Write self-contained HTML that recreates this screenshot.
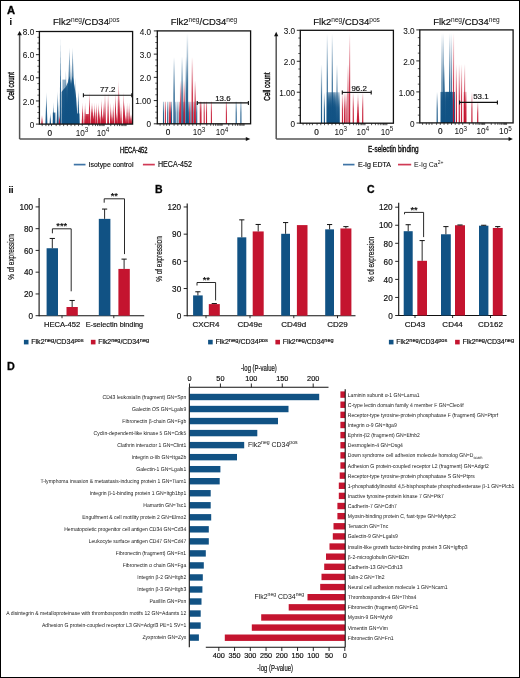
<!DOCTYPE html>
<html><head><meta charset="utf-8"><style>
html,body{margin:0;padding:0;background:#fff;}
svg{display:block;font-family:"Liberation Sans", sans-serif;will-change:transform;}
text.s{stroke:#111;stroke-width:0.18px;}
text.d{text-rendering:geometricPrecision;}
</style></head><body>
<svg width="520" height="678" viewBox="0 0 520 678">
<defs>
<linearGradient id="gB" x1="0" y1="1" x2="0" y2="0"><stop offset="0" stop-color="#115284" stop-opacity="1"/><stop offset="0.5" stop-color="#115284" stop-opacity="0.85"/><stop offset="1" stop-color="#115284" stop-opacity="0.3"/></linearGradient>
<linearGradient id="gR" x1="0" y1="1" x2="0" y2="0"><stop offset="0" stop-color="#C4142F" stop-opacity="1"/><stop offset="0.5" stop-color="#C4142F" stop-opacity="0.85"/><stop offset="1" stop-color="#C4142F" stop-opacity="0.3"/></linearGradient>
<linearGradient id="kB" x1="0" y1="1" x2="0" y2="0"><stop offset="0" stop-color="#115284" stop-opacity="1"/><stop offset="0.7" stop-color="#115284" stop-opacity="0.92"/><stop offset="1" stop-color="#115284" stop-opacity="0.75"/></linearGradient>
<linearGradient id="kR" x1="0" y1="1" x2="0" y2="0"><stop offset="0" stop-color="#C4142F" stop-opacity="1"/><stop offset="0.7" stop-color="#C4142F" stop-opacity="0.92"/><stop offset="1" stop-color="#C4142F" stop-opacity="0.75"/></linearGradient>
<linearGradient id="fB" x1="0" y1="1" x2="0" y2="0"><stop offset="0" stop-color="#115284" stop-opacity="1"/><stop offset="0.45" stop-color="#115284" stop-opacity="0.8"/><stop offset="1" stop-color="#115284" stop-opacity="0.0"/></linearGradient>
<linearGradient id="fR" x1="0" y1="1" x2="0" y2="0"><stop offset="0" stop-color="#C4142F" stop-opacity="1"/><stop offset="0.45" stop-color="#C4142F" stop-opacity="0.8"/><stop offset="1" stop-color="#C4142F" stop-opacity="0.0"/></linearGradient>
</defs>
<rect x="0" y="0" width="520" height="678" fill="#fff"/>
<text class="s" x="7.1" y="13.8" font-size="11.2" text-anchor="start" font-weight="bold" fill="#000" style="stroke-width:0.35px">A</text>
<text class="s" x="9.6" y="24.6" font-size="9" text-anchor="start" font-weight="bold" fill="#000" >i</text>
<text class="s" x="86.3" y="24.7" font-size="9.2" text-anchor="middle" fill="#111" textLength="66.6" lengthAdjust="spacingAndGlyphs">Flk2<tspan font-size="6.4" dy="-2.9" style="stroke-width:0">neg</tspan><tspan dy="2.9">/CD34</tspan><tspan font-size="6.4" dy="-2.9" style="stroke-width:0">pos</tspan></text>
<polygon points="62.40,124.00 62.40,79.60 65.80,79.60 65.80,124.00" fill="url(#kB)" fill-opacity="0.6"/>
<polygon points="61.60,124.00 61.60,92.00 63.00,90.00 65.80,87.00 68.00,82.00 69.50,76.00 71.00,84.00 72.60,76.00 74.50,86.00 76.20,98.00 77.20,113.60 79.40,113.60 79.60,124.00" fill="url(#kB)" fill-opacity="1.0"/>
<polygon points="45.40,124.1 46.40,91.69 47.40,124.1" fill="url(#gB)"/>
<polygon points="49.55,124.1 50.30,112.52 51.05,124.1" fill="url(#gB)"/>
<polygon points="56.60,124.1 57.70,91.11 58.80,124.1" fill="url(#gB)"/>
<polygon points="59.60,124.1 60.50,36.13 61.40,124.1" fill="url(#gB)"/>
<polygon points="64.40,124.1 65.90,69.70 67.40,124.1" fill="url(#gB)"/>
<polygon points="65.95,124.1 67.20,82.43 68.45,124.1" fill="url(#gB)"/>
<polygon points="66.75,124.1 69.50,47.70 72.25,124.1" fill="url(#gB)"/>
<polygon points="69.85,124.1 72.60,47.70 75.35,124.1" fill="url(#gB)"/>
<polygon points="73.60,124.1 75.10,77.80 76.60,124.1" fill="url(#gB)"/>
<polygon points="77.85,124.1 78.60,90.53 79.35,124.1" fill="url(#gB)"/>
<rect x="52.80" y="112.52" width="2.60" height="11.58" fill="url(#kB)"/>
<polygon points="52.80,124.1 53.60,102.11 54.40,124.1" fill="url(#gB)"/>
<polygon points="41.20,124.1 42.00,114.84 42.80,124.1" fill="url(#gR)"/>
<polygon points="58.70,124.1 59.50,114.84 60.30,124.1" fill="url(#gR)"/>
<rect x="85.50" y="114.03" width="3.40" height="10.07" fill="url(#kR)"/>
<polygon points="81.65,124.1 82.60,102.45 83.55,124.1" fill="url(#gR)"/>
<polygon points="84.15,124.1 85.10,102.45 86.05,124.1" fill="url(#gR)"/>
<polygon points="88.55,124.1 89.50,90.88 90.45,124.1" fill="url(#gR)"/>
<polygon points="90.65,124.1 91.60,102.45 92.55,124.1" fill="url(#gR)"/>
<polygon points="91.65,124.1 92.60,102.45 93.55,124.1" fill="url(#gR)"/>
<polygon points="93.65,124.1 94.60,102.45 95.55,124.1" fill="url(#gR)"/>
<polygon points="95.35,124.1 96.30,102.45 97.25,124.1" fill="url(#gR)"/>
<polygon points="97.45,124.1 98.40,102.45 99.35,124.1" fill="url(#gR)"/>
<polygon points="98.75,124.1 99.70,110.21 100.65,124.1" fill="url(#gR)"/>
<polygon points="100.55,124.1 101.50,98.63 102.45,124.1" fill="url(#gR)"/>
<polygon points="102.85,124.1 103.80,102.45 104.75,124.1" fill="url(#gR)"/>
<polygon points="104.05,124.1 105.00,92.27 105.95,124.1" fill="url(#gR)"/>
<polygon points="107.15,124.1 108.10,92.27 109.05,124.1" fill="url(#gR)"/>
<polygon points="109.85,124.1 110.80,102.45 111.75,124.1" fill="url(#gR)"/>
<polygon points="112.25,124.1 113.20,102.45 114.15,124.1" fill="url(#gR)"/>
<polygon points="114.55,124.1 115.50,92.27 116.45,124.1" fill="url(#gR)"/>
<polygon points="117.35,124.1 118.30,80.12 119.25,124.1" fill="url(#gR)"/>
<polygon points="118.35,124.1 119.30,90.88 120.25,124.1" fill="url(#gR)"/>
<polygon points="120.05,124.1 121.00,102.45 121.95,124.1" fill="url(#gR)"/>
<polygon points="122.75,124.1 123.70,91.69 124.65,124.1" fill="url(#gR)"/>
<polygon points="123.45,124.1 124.40,102.45 125.35,124.1" fill="url(#gR)"/>
<polygon points="126.15,124.1 127.10,102.45 128.05,124.1" fill="url(#gR)"/>
<polygon points="128.15,124.1 129.10,102.45 130.05,124.1" fill="url(#gR)"/>
<polygon points="130.25,124.1 131.20,114.03 132.15,124.1" fill="url(#gR)"/>
<polygon points="92.55,124.1 93.50,114.03 94.45,124.1" fill="url(#gR)"/>
<polygon points="101.65,124.1 102.60,114.03 103.55,124.1" fill="url(#gR)"/>
<polygon points="110.95,124.1 111.90,114.03 112.85,124.1" fill="url(#gR)"/>
<polygon points="115.85,124.1 116.80,112.52 117.75,124.1" fill="url(#gR)"/>
<polygon points="124.85,124.1 125.80,114.03 126.75,124.1" fill="url(#gR)"/>
<polygon points="129.25,124.1 130.20,114.03 131.15,124.1" fill="url(#gR)"/>
<polygon points="77.40,124.1 78.20,90.53 79.00,124.1" fill="url(#gB)"/>
<rect x="39.4" y="31.5" width="93.19999999999999" height="92.6" fill="none" stroke="#111" stroke-width="1.3"/>
<line x1="35.9" y1="124.1" x2="39.4" y2="124.1" stroke="#111" stroke-width="0.9"/>
<text class="s" x="34.199999999999996" y="127.69999999999999" font-size="8.2" text-anchor="end" font-weight="normal" fill="#111" style="stroke-width:0.06px">0</text>
<line x1="35.9" y1="100.94999999999999" x2="39.4" y2="100.94999999999999" stroke="#111" stroke-width="0.9"/>
<text class="s" x="34.199999999999996" y="104.54999999999998" font-size="8.2" text-anchor="end" font-weight="normal" fill="#111" style="stroke-width:0.06px">2.0</text>
<line x1="35.9" y1="77.8" x2="39.4" y2="77.8" stroke="#111" stroke-width="0.9"/>
<text class="s" x="34.199999999999996" y="81.39999999999999" font-size="8.2" text-anchor="end" font-weight="normal" fill="#111" style="stroke-width:0.06px">4.0</text>
<line x1="35.9" y1="54.650000000000006" x2="39.4" y2="54.650000000000006" stroke="#111" stroke-width="0.9"/>
<text class="s" x="34.199999999999996" y="58.25000000000001" font-size="8.2" text-anchor="end" font-weight="normal" fill="#111" style="stroke-width:0.06px">6.0</text>
<line x1="35.9" y1="31.5" x2="39.4" y2="31.5" stroke="#111" stroke-width="0.9"/>
<text class="s" x="34.199999999999996" y="35.1" font-size="8.2" text-anchor="end" font-weight="normal" fill="#111" style="stroke-width:0.06px">8.0</text>
<line x1="37.4" y1="118.3125" x2="39.4" y2="118.3125" stroke="#111" stroke-width="0.7"/>
<line x1="37.4" y1="112.52499999999999" x2="39.4" y2="112.52499999999999" stroke="#111" stroke-width="0.7"/>
<line x1="37.4" y1="106.7375" x2="39.4" y2="106.7375" stroke="#111" stroke-width="0.7"/>
<line x1="37.4" y1="95.1625" x2="39.4" y2="95.1625" stroke="#111" stroke-width="0.7"/>
<line x1="37.4" y1="89.375" x2="39.4" y2="89.375" stroke="#111" stroke-width="0.7"/>
<line x1="37.4" y1="83.5875" x2="39.4" y2="83.5875" stroke="#111" stroke-width="0.7"/>
<line x1="37.4" y1="72.01249999999999" x2="39.4" y2="72.01249999999999" stroke="#111" stroke-width="0.7"/>
<line x1="37.4" y1="66.225" x2="39.4" y2="66.225" stroke="#111" stroke-width="0.7"/>
<line x1="37.4" y1="60.4375" x2="39.4" y2="60.4375" stroke="#111" stroke-width="0.7"/>
<line x1="37.4" y1="48.8625" x2="39.4" y2="48.8625" stroke="#111" stroke-width="0.7"/>
<line x1="37.4" y1="43.075" x2="39.4" y2="43.075" stroke="#111" stroke-width="0.7"/>
<line x1="37.4" y1="37.287499999999994" x2="39.4" y2="37.287499999999994" stroke="#111" stroke-width="0.7"/>
<text class="s" x="49.75" y="135.5" font-size="8.2" text-anchor="middle" font-weight="normal" fill="#111" >0</text>
<text x="82" y="135.5" font-size="8.2" text-anchor="middle" fill="#111">10<tspan font-size="6.3" dy="-3.2">3</tspan></text>
<text x="103" y="135.5" font-size="8.2" text-anchor="middle" fill="#111">10<tspan font-size="6.3" dy="-3.2">4</tspan></text>
<line x1="42.196" y1="124.1" x2="42.196" y2="126.1" stroke="#111" stroke-width="0.7"/>
<line x1="45.924" y1="124.1" x2="45.924" y2="126.1" stroke="#111" stroke-width="0.7"/>
<line x1="48.72" y1="124.1" x2="48.72" y2="126.1" stroke="#111" stroke-width="0.7"/>
<line x1="51.516" y1="124.1" x2="51.516" y2="126.1" stroke="#111" stroke-width="0.7"/>
<line x1="56.175999999999995" y1="124.1" x2="56.175999999999995" y2="126.1" stroke="#111" stroke-width="0.7"/>
<line x1="59.903999999999996" y1="124.1" x2="59.903999999999996" y2="126.1" stroke="#111" stroke-width="0.7"/>
<line x1="63.632" y1="124.1" x2="63.632" y2="126.1" stroke="#111" stroke-width="0.7"/>
<line x1="67.36" y1="124.1" x2="67.36" y2="126.1" stroke="#111" stroke-width="0.7"/>
<line x1="71.088" y1="124.1" x2="71.088" y2="126.1" stroke="#111" stroke-width="0.7"/>
<line x1="74.816" y1="124.1" x2="74.816" y2="126.1" stroke="#111" stroke-width="0.7"/>
<line x1="78.54399999999998" y1="124.1" x2="78.54399999999998" y2="126.1" stroke="#111" stroke-width="0.7"/>
<line x1="82.27199999999999" y1="124.1" x2="82.27199999999999" y2="126.1" stroke="#111" stroke-width="0.7"/>
<line x1="88.8651589650325" y1="124.1" x2="88.8651589650325" y2="126.1" stroke="#111" stroke-width="0.7"/>
<line x1="92.72190972087003" y1="124.1" x2="92.72190972087003" y2="126.1" stroke="#111" stroke-width="0.7"/>
<line x1="95.45831793006502" y1="124.1" x2="95.45831793006502" y2="126.1" stroke="#111" stroke-width="0.7"/>
<line x1="97.58084103496748" y1="124.1" x2="97.58084103496748" y2="126.1" stroke="#111" stroke-width="0.7"/>
<line x1="99.31506868590256" y1="124.1" x2="99.31506868590256" y2="126.1" stroke="#111" stroke-width="0.7"/>
<line x1="100.78133727239225" y1="124.1" x2="100.78133727239225" y2="126.1" stroke="#111" stroke-width="0.7"/>
<line x1="102.05147689509754" y1="124.1" x2="102.05147689509754" y2="126.1" stroke="#111" stroke-width="0.7"/>
<line x1="103.17181944174008" y1="124.1" x2="103.17181944174008" y2="126.1" stroke="#111" stroke-width="0.7"/>
<line x1="104.174" y1="124.1" x2="104.174" y2="126.1" stroke="#111" stroke-width="0.7"/>
<line x1="110.76715896503252" y1="124.1" x2="110.76715896503252" y2="126.1" stroke="#111" stroke-width="0.7"/>
<line x1="114.62390972087005" y1="124.1" x2="114.62390972087005" y2="126.1" stroke="#111" stroke-width="0.7"/>
<line x1="117.36031793006504" y1="124.1" x2="117.36031793006504" y2="126.1" stroke="#111" stroke-width="0.7"/>
<line x1="119.48284103496749" y1="124.1" x2="119.48284103496749" y2="126.1" stroke="#111" stroke-width="0.7"/>
<line x1="121.21706868590257" y1="124.1" x2="121.21706868590257" y2="126.1" stroke="#111" stroke-width="0.7"/>
<line x1="122.68333727239227" y1="124.1" x2="122.68333727239227" y2="126.1" stroke="#111" stroke-width="0.7"/>
<line x1="123.95347689509755" y1="124.1" x2="123.95347689509755" y2="126.1" stroke="#111" stroke-width="0.7"/>
<line x1="125.0738194417401" y1="124.1" x2="125.0738194417401" y2="126.1" stroke="#111" stroke-width="0.7"/>
<line x1="126.076" y1="124.1" x2="126.076" y2="126.1" stroke="#111" stroke-width="0.7"/>
<line x1="83.4" y1="95.3" x2="131.8" y2="95.3" stroke="#111" stroke-width="1.1"/>
<line x1="83.4" y1="93.3" x2="83.4" y2="97.3" stroke="#111" stroke-width="1.1"/>
<line x1="131.8" y1="93.3" x2="131.8" y2="97.3" stroke="#111" stroke-width="1.1"/>
<text class="s" x="107.60000000000001" y="92.1" font-size="7.9" text-anchor="middle" font-weight="normal" fill="#111" >77.2</text>
<text class="s" x="204" y="24.7" font-size="9.2" text-anchor="middle" fill="#111" textLength="66.6" lengthAdjust="spacingAndGlyphs">Flk2<tspan font-size="6.4" dy="-2.9" style="stroke-width:0">neg</tspan><tspan dy="2.9">/CD34</tspan><tspan font-size="6.4" dy="-2.9" style="stroke-width:0">neg</tspan></text>
<rect x="162.95" y="101.74" width="1.10" height="22.06" fill="url(#gB)"/>
<rect x="164.85" y="101.74" width="1.10" height="22.06" fill="url(#gR)"/>
<rect x="167.15" y="101.74" width="1.10" height="22.06" fill="url(#gB)"/>
<rect x="168.85" y="101.74" width="1.10" height="22.06" fill="url(#gR)"/>
<rect x="169.95" y="101.74" width="1.10" height="22.06" fill="url(#gR)"/>
<rect x="170.95" y="101.74" width="1.10" height="22.06" fill="url(#gB)"/>
<rect x="175.25" y="101.74" width="1.10" height="22.06" fill="url(#gB)"/>
<rect x="177.35" y="101.74" width="1.10" height="22.06" fill="url(#gB)"/>
<rect x="179.05" y="101.74" width="1.10" height="22.06" fill="url(#gR)"/>
<rect x="182.85" y="101.74" width="1.10" height="22.06" fill="url(#gB)"/>
<rect x="184.35" y="101.74" width="1.10" height="22.06" fill="url(#gB)"/>
<rect x="188.05" y="101.74" width="1.10" height="22.06" fill="url(#gB)"/>
<rect x="189.15" y="101.74" width="1.10" height="22.06" fill="url(#gR)"/>
<rect x="190.45" y="101.74" width="1.10" height="22.06" fill="url(#gB)"/>
<rect x="192.55" y="101.74" width="1.10" height="22.06" fill="url(#gB)"/>
<rect x="193.85" y="101.74" width="1.10" height="22.06" fill="url(#gR)"/>
<rect x="196.15" y="101.74" width="1.10" height="22.06" fill="url(#gB)"/>
<rect x="199.75" y="101.74" width="1.10" height="22.06" fill="url(#gR)"/>
<rect x="200.45" y="101.74" width="1.10" height="22.06" fill="url(#gR)"/>
<rect x="203.65" y="101.74" width="1.10" height="22.06" fill="url(#gR)"/>
<rect x="205.95" y="101.74" width="1.10" height="22.06" fill="url(#gR)"/>
<rect x="210.85" y="101.74" width="1.10" height="22.06" fill="url(#gR)"/>
<rect x="225.85" y="101.74" width="1.10" height="22.06" fill="url(#gR)"/>
<rect x="235.65" y="101.74" width="1.10" height="22.06" fill="url(#gB)"/>
<rect x="240.35" y="101.74" width="1.10" height="22.06" fill="url(#gB)"/>
<rect x="173.35" y="57.14" width="1.50" height="66.66" fill="url(#fB)"/>
<rect x="179.95" y="80.37" width="1.50" height="43.43" fill="url(#fR)"/>
<rect x="181.35" y="56.45" width="1.50" height="67.35" fill="url(#fB)"/>
<rect x="183.45" y="79.67" width="1.50" height="44.13" fill="url(#fR)"/>
<rect x="186.65" y="33.22" width="1.50" height="90.58" fill="url(#fB)"/>
<rect x="185.55" y="56.45" width="1.50" height="67.35" fill="url(#fB)"/>
<rect x="191.55" y="57.14" width="1.50" height="66.66" fill="url(#fR)"/>
<rect x="194.45" y="80.37" width="1.50" height="43.43" fill="url(#fR)"/>
<rect x="157.3" y="30.9" width="93.29999999999998" height="92.9" fill="none" stroke="#111" stroke-width="1.3"/>
<line x1="153.8" y1="123.8" x2="157.3" y2="123.8" stroke="#111" stroke-width="0.9"/>
<text class="s" x="151.10000000000002" y="127.39999999999999" font-size="8.2" text-anchor="end" font-weight="normal" fill="#111" style="stroke-width:0.06px">0</text>
<line x1="153.8" y1="100.57499999999999" x2="157.3" y2="100.57499999999999" stroke="#111" stroke-width="0.9"/>
<text class="s" x="151.10000000000002" y="104.17499999999998" font-size="8.2" text-anchor="end" font-weight="normal" fill="#111" style="stroke-width:0.06px">1.00</text>
<line x1="153.8" y1="77.35" x2="157.3" y2="77.35" stroke="#111" stroke-width="0.9"/>
<text class="s" x="151.10000000000002" y="80.94999999999999" font-size="8.2" text-anchor="end" font-weight="normal" fill="#111" style="stroke-width:0.06px">2.0</text>
<line x1="153.8" y1="54.124999999999986" x2="157.3" y2="54.124999999999986" stroke="#111" stroke-width="0.9"/>
<text class="s" x="151.10000000000002" y="57.72499999999999" font-size="8.2" text-anchor="end" font-weight="normal" fill="#111" style="stroke-width:0.06px">3.0</text>
<line x1="153.8" y1="30.89999999999999" x2="157.3" y2="30.89999999999999" stroke="#111" stroke-width="0.9"/>
<text class="s" x="151.10000000000002" y="34.49999999999999" font-size="8.2" text-anchor="end" font-weight="normal" fill="#111" style="stroke-width:0.06px">4.0</text>
<line x1="155.3" y1="117.99374999999999" x2="157.3" y2="117.99374999999999" stroke="#111" stroke-width="0.7"/>
<line x1="155.3" y1="112.1875" x2="157.3" y2="112.1875" stroke="#111" stroke-width="0.7"/>
<line x1="155.3" y1="106.38125" x2="157.3" y2="106.38125" stroke="#111" stroke-width="0.7"/>
<line x1="155.3" y1="94.76875" x2="157.3" y2="94.76875" stroke="#111" stroke-width="0.7"/>
<line x1="155.3" y1="88.96249999999999" x2="157.3" y2="88.96249999999999" stroke="#111" stroke-width="0.7"/>
<line x1="155.3" y1="83.15625" x2="157.3" y2="83.15625" stroke="#111" stroke-width="0.7"/>
<line x1="155.3" y1="71.54374999999999" x2="157.3" y2="71.54374999999999" stroke="#111" stroke-width="0.7"/>
<line x1="155.3" y1="65.7375" x2="157.3" y2="65.7375" stroke="#111" stroke-width="0.7"/>
<line x1="155.3" y1="59.93124999999999" x2="157.3" y2="59.93124999999999" stroke="#111" stroke-width="0.7"/>
<line x1="155.3" y1="48.318749999999994" x2="157.3" y2="48.318749999999994" stroke="#111" stroke-width="0.7"/>
<line x1="155.3" y1="42.51249999999999" x2="157.3" y2="42.51249999999999" stroke="#111" stroke-width="0.7"/>
<line x1="155.3" y1="36.70625" x2="157.3" y2="36.70625" stroke="#111" stroke-width="0.7"/>
<text class="s" x="168" y="135.2" font-size="8.2" text-anchor="middle" font-weight="normal" fill="#111" >0</text>
<text x="199" y="135.2" font-size="8.2" text-anchor="middle" fill="#111">10<tspan font-size="6.3" dy="-3.2">3</tspan></text>
<text x="222" y="135.2" font-size="8.2" text-anchor="middle" fill="#111">10<tspan font-size="6.3" dy="-3.2">4</tspan></text>
<line x1="160.09900000000002" y1="123.8" x2="160.09900000000002" y2="125.8" stroke="#111" stroke-width="0.7"/>
<line x1="163.83100000000002" y1="123.8" x2="163.83100000000002" y2="125.8" stroke="#111" stroke-width="0.7"/>
<line x1="166.63" y1="123.8" x2="166.63" y2="125.8" stroke="#111" stroke-width="0.7"/>
<line x1="169.429" y1="123.8" x2="169.429" y2="125.8" stroke="#111" stroke-width="0.7"/>
<line x1="174.094" y1="123.8" x2="174.094" y2="125.8" stroke="#111" stroke-width="0.7"/>
<line x1="177.82600000000002" y1="123.8" x2="177.82600000000002" y2="125.8" stroke="#111" stroke-width="0.7"/>
<line x1="181.558" y1="123.8" x2="181.558" y2="125.8" stroke="#111" stroke-width="0.7"/>
<line x1="185.29000000000002" y1="123.8" x2="185.29000000000002" y2="125.8" stroke="#111" stroke-width="0.7"/>
<line x1="189.02200000000002" y1="123.8" x2="189.02200000000002" y2="125.8" stroke="#111" stroke-width="0.7"/>
<line x1="192.75400000000002" y1="123.8" x2="192.75400000000002" y2="125.8" stroke="#111" stroke-width="0.7"/>
<line x1="196.486" y1="123.8" x2="196.486" y2="125.8" stroke="#111" stroke-width="0.7"/>
<line x1="200.21800000000002" y1="123.8" x2="200.21800000000002" y2="125.8" stroke="#111" stroke-width="0.7"/>
<line x1="206.81823316993064" y1="123.8" x2="206.81823316993064" y2="125.8" stroke="#111" stroke-width="0.7"/>
<line x1="210.679122070356" y1="123.8" x2="210.679122070356" y2="125.8" stroke="#111" stroke-width="0.7"/>
<line x1="213.41846633986125" y1="123.8" x2="213.41846633986125" y2="125.8" stroke="#111" stroke-width="0.7"/>
<line x1="215.5432668300694" y1="123.8" x2="215.5432668300694" y2="125.8" stroke="#111" stroke-width="0.7"/>
<line x1="217.2793552402866" y1="123.8" x2="217.2793552402866" y2="125.8" stroke="#111" stroke-width="0.7"/>
<line x1="218.7471970763326" y1="123.8" x2="218.7471970763326" y2="125.8" stroke="#111" stroke-width="0.7"/>
<line x1="220.01869950979187" y1="123.8" x2="220.01869950979187" y2="125.8" stroke="#111" stroke-width="0.7"/>
<line x1="221.14024414071193" y1="123.8" x2="221.14024414071193" y2="125.8" stroke="#111" stroke-width="0.7"/>
<line x1="222.14350000000002" y1="123.8" x2="222.14350000000002" y2="125.8" stroke="#111" stroke-width="0.7"/>
<line x1="228.74373316993064" y1="123.8" x2="228.74373316993064" y2="125.8" stroke="#111" stroke-width="0.7"/>
<line x1="232.604622070356" y1="123.8" x2="232.604622070356" y2="125.8" stroke="#111" stroke-width="0.7"/>
<line x1="235.34396633986125" y1="123.8" x2="235.34396633986125" y2="125.8" stroke="#111" stroke-width="0.7"/>
<line x1="237.4687668300694" y1="123.8" x2="237.4687668300694" y2="125.8" stroke="#111" stroke-width="0.7"/>
<line x1="239.2048552402866" y1="123.8" x2="239.2048552402866" y2="125.8" stroke="#111" stroke-width="0.7"/>
<line x1="240.6726970763326" y1="123.8" x2="240.6726970763326" y2="125.8" stroke="#111" stroke-width="0.7"/>
<line x1="241.94419950979187" y1="123.8" x2="241.94419950979187" y2="125.8" stroke="#111" stroke-width="0.7"/>
<line x1="243.06574414071193" y1="123.8" x2="243.06574414071193" y2="125.8" stroke="#111" stroke-width="0.7"/>
<line x1="244.069" y1="123.8" x2="244.069" y2="125.8" stroke="#111" stroke-width="0.7"/>
<line x1="197.3" y1="102.9" x2="248.4" y2="102.9" stroke="#111" stroke-width="1.1"/>
<line x1="197.3" y1="100.9" x2="197.3" y2="104.9" stroke="#111" stroke-width="1.1"/>
<line x1="248.4" y1="100.9" x2="248.4" y2="104.9" stroke="#111" stroke-width="1.1"/>
<text class="s" x="222.85000000000002" y="100.7" font-size="7.9" text-anchor="middle" font-weight="normal" fill="#111" >13.6</text>
<line x1="19.6" y1="34.5" x2="19.6" y2="139.0" stroke="#555" stroke-width="1.5"/>
<line x1="19.6" y1="139.0" x2="247" y2="139.0" stroke="#555" stroke-width="1.5"/>
<polygon points="19.6,31.0 17.3,35.2 21.9,35.2" fill="#111"/>
<polygon points="250.3,139 245.8,136.9 245.8,141.1" fill="#111"/>
<text class="s" x="13.9" y="86" font-size="9.6" text-anchor="middle" font-weight="normal" fill="#111" textLength="28.1" lengthAdjust="spacingAndGlyphs" style="stroke-width:0.45px" transform="rotate(-90 13.9 86)">Cell count</text>
<text class="s" x="133.8" y="153" font-size="9.0" text-anchor="middle" font-weight="normal" fill="#111" textLength="27.4" lengthAdjust="spacingAndGlyphs" style="stroke-width:0.4px">HECA-452</text>
<line x1="73.8" y1="164.6" x2="85.5" y2="164.6" stroke="#3f74a6" stroke-width="1.7"/>
<text class="s" x="88.5" y="166.9" font-size="8.0" text-anchor="start" font-weight="normal" fill="#111" textLength="45" lengthAdjust="spacingAndGlyphs" >Isotype control</text>
<line x1="142.9" y1="164.6" x2="154.8" y2="164.6" stroke="#d03a55" stroke-width="1.7"/>
<text class="s" x="157.9" y="167.2" font-size="8.2" text-anchor="start" font-weight="normal" fill="#111" textLength="34" lengthAdjust="spacingAndGlyphs" >HECA-452</text>
<text class="s" x="346.6" y="24.7" font-size="9.2" text-anchor="middle" fill="#111" textLength="66.6" lengthAdjust="spacingAndGlyphs">Flk2<tspan font-size="6.4" dy="-2.9" style="stroke-width:0">neg</tspan><tspan dy="2.9">/CD34</tspan><tspan font-size="6.4" dy="-2.9" style="stroke-width:0">pos</tspan></text>
<rect x="326.60" y="92.23" width="13.00" height="30.97" fill="url(#gB)"/>
<rect x="328.20" y="92.23" width="7.30" height="30.97" fill="url(#gB)"/>
<rect x="320.90" y="64.36" width="1.20" height="58.84" fill="url(#fB)"/>
<rect x="323.80" y="92.23" width="1.20" height="30.97" fill="url(#fB)"/>
<rect x="326.70" y="33.40" width="1.20" height="89.80" fill="url(#fB)"/>
<rect x="328.00" y="92.23" width="1.20" height="30.97" fill="url(#fB)"/>
<rect x="329.60" y="92.23" width="1.20" height="30.97" fill="url(#fB)"/>
<rect x="331.70" y="33.40" width="1.20" height="89.80" fill="url(#fB)"/>
<rect x="333.20" y="92.23" width="1.20" height="30.97" fill="url(#fB)"/>
<rect x="334.70" y="92.23" width="1.20" height="30.97" fill="url(#fB)"/>
<rect x="336.40" y="64.36" width="1.20" height="58.84" fill="url(#fB)"/>
<rect x="338.30" y="92.23" width="1.20" height="30.97" fill="url(#fB)"/>
<rect x="341.90" y="92.23" width="1.20" height="30.97" fill="url(#fR)"/>
<rect x="344.00" y="92.23" width="1.20" height="30.97" fill="url(#fR)"/>
<rect x="345.50" y="92.23" width="1.20" height="30.97" fill="url(#fR)"/>
<rect x="347.40" y="64.36" width="1.20" height="58.84" fill="url(#fR)"/>
<rect x="349.00" y="33.40" width="1.20" height="89.80" fill="url(#fR)"/>
<rect x="352.70" y="92.23" width="1.20" height="30.97" fill="url(#fR)"/>
<rect x="362.10" y="92.23" width="1.20" height="30.97" fill="url(#fR)"/>
<polygon points="356.70,123.2 358.00,92.23 359.30,123.2" fill="url(#gR)"/>
<rect x="300.3" y="30.3" width="93.09999999999997" height="92.9" fill="none" stroke="#111" stroke-width="1.3"/>
<line x1="296.8" y1="123.2" x2="300.3" y2="123.2" stroke="#111" stroke-width="0.9"/>
<text class="s" x="295.1" y="126.8" font-size="8.2" text-anchor="end" font-weight="normal" fill="#111" style="stroke-width:0.06px">0</text>
<line x1="296.8" y1="92.23333333333333" x2="300.3" y2="92.23333333333333" stroke="#111" stroke-width="0.9"/>
<text class="s" x="295.1" y="95.83333333333333" font-size="8.2" text-anchor="end" font-weight="normal" fill="#111" style="stroke-width:0.06px">1.00</text>
<line x1="296.8" y1="61.266666666666666" x2="300.3" y2="61.266666666666666" stroke="#111" stroke-width="0.9"/>
<text class="s" x="295.1" y="64.86666666666666" font-size="8.2" text-anchor="end" font-weight="normal" fill="#111" style="stroke-width:0.06px">2.0</text>
<line x1="296.8" y1="30.299999999999997" x2="300.3" y2="30.299999999999997" stroke="#111" stroke-width="0.9"/>
<text class="s" x="295.1" y="33.9" font-size="8.2" text-anchor="end" font-weight="normal" fill="#111" style="stroke-width:0.06px">3.0</text>
<line x1="298.3" y1="115.45833333333334" x2="300.3" y2="115.45833333333334" stroke="#111" stroke-width="0.7"/>
<line x1="298.3" y1="107.71666666666667" x2="300.3" y2="107.71666666666667" stroke="#111" stroke-width="0.7"/>
<line x1="298.3" y1="99.975" x2="300.3" y2="99.975" stroke="#111" stroke-width="0.7"/>
<line x1="298.3" y1="84.49166666666667" x2="300.3" y2="84.49166666666667" stroke="#111" stroke-width="0.7"/>
<line x1="298.3" y1="76.75" x2="300.3" y2="76.75" stroke="#111" stroke-width="0.7"/>
<line x1="298.3" y1="69.00833333333333" x2="300.3" y2="69.00833333333333" stroke="#111" stroke-width="0.7"/>
<line x1="298.3" y1="53.52499999999999" x2="300.3" y2="53.52499999999999" stroke="#111" stroke-width="0.7"/>
<line x1="298.3" y1="45.78333333333333" x2="300.3" y2="45.78333333333333" stroke="#111" stroke-width="0.7"/>
<line x1="298.3" y1="38.04166666666667" x2="300.3" y2="38.04166666666667" stroke="#111" stroke-width="0.7"/>
<text class="s" x="316.5" y="134.6" font-size="8.2" text-anchor="middle" font-weight="normal" fill="#111" >0</text>
<text x="340.8" y="134.6" font-size="8.2" text-anchor="middle" fill="#111">10<tspan font-size="6.3" dy="-3.2">3</tspan></text>
<text x="362.9" y="134.6" font-size="8.2" text-anchor="middle" fill="#111">10<tspan font-size="6.3" dy="-3.2">4</tspan></text>
<text x="387" y="134.6" font-size="8.2" text-anchor="middle" fill="#111">10<tspan font-size="6.3" dy="-3.2">5</tspan></text>
<line x1="303.093" y1="123.2" x2="303.093" y2="125.2" stroke="#111" stroke-width="0.7"/>
<line x1="306.817" y1="123.2" x2="306.817" y2="125.2" stroke="#111" stroke-width="0.7"/>
<line x1="309.61" y1="123.2" x2="309.61" y2="125.2" stroke="#111" stroke-width="0.7"/>
<line x1="312.403" y1="123.2" x2="312.403" y2="125.2" stroke="#111" stroke-width="0.7"/>
<line x1="317.058" y1="123.2" x2="317.058" y2="125.2" stroke="#111" stroke-width="0.7"/>
<line x1="320.782" y1="123.2" x2="320.782" y2="125.2" stroke="#111" stroke-width="0.7"/>
<line x1="324.50600000000003" y1="123.2" x2="324.50600000000003" y2="125.2" stroke="#111" stroke-width="0.7"/>
<line x1="328.23" y1="123.2" x2="328.23" y2="125.2" stroke="#111" stroke-width="0.7"/>
<line x1="331.954" y1="123.2" x2="331.954" y2="125.2" stroke="#111" stroke-width="0.7"/>
<line x1="335.678" y1="123.2" x2="335.678" y2="125.2" stroke="#111" stroke-width="0.7"/>
<line x1="339.402" y1="123.2" x2="339.402" y2="125.2" stroke="#111" stroke-width="0.7"/>
<line x1="343.126" y1="123.2" x2="343.126" y2="125.2" stroke="#111" stroke-width="0.7"/>
<line x1="349.71208476013436" y1="123.2" x2="349.71208476013436" y2="125.2" stroke="#111" stroke-width="0.7"/>
<line x1="353.5646973713841" y1="123.2" x2="353.5646973713841" y2="125.2" stroke="#111" stroke-width="0.7"/>
<line x1="356.2981695202688" y1="123.2" x2="356.2981695202688" y2="125.2" stroke="#111" stroke-width="0.7"/>
<line x1="358.41841523986557" y1="123.2" x2="358.41841523986557" y2="125.2" stroke="#111" stroke-width="0.7"/>
<line x1="360.1507821315185" y1="123.2" x2="360.1507821315185" y2="125.2" stroke="#111" stroke-width="0.7"/>
<line x1="361.6154774684519" y1="123.2" x2="361.6154774684519" y2="125.2" stroke="#111" stroke-width="0.7"/>
<line x1="362.8842542804032" y1="123.2" x2="362.8842542804032" y2="125.2" stroke="#111" stroke-width="0.7"/>
<line x1="364.00339474276825" y1="123.2" x2="364.00339474276825" y2="125.2" stroke="#111" stroke-width="0.7"/>
<line x1="365.0045" y1="123.2" x2="365.0045" y2="125.2" stroke="#111" stroke-width="0.7"/>
<line x1="371.5905847601344" y1="123.2" x2="371.5905847601344" y2="125.2" stroke="#111" stroke-width="0.7"/>
<line x1="375.44319737138414" y1="123.2" x2="375.44319737138414" y2="125.2" stroke="#111" stroke-width="0.7"/>
<line x1="378.17666952026883" y1="123.2" x2="378.17666952026883" y2="125.2" stroke="#111" stroke-width="0.7"/>
<line x1="380.2969152398656" y1="123.2" x2="380.2969152398656" y2="125.2" stroke="#111" stroke-width="0.7"/>
<line x1="382.0292821315185" y1="123.2" x2="382.0292821315185" y2="125.2" stroke="#111" stroke-width="0.7"/>
<line x1="383.49397746845193" y1="123.2" x2="383.49397746845193" y2="125.2" stroke="#111" stroke-width="0.7"/>
<line x1="384.7627542804032" y1="123.2" x2="384.7627542804032" y2="125.2" stroke="#111" stroke-width="0.7"/>
<line x1="385.8818947427683" y1="123.2" x2="385.8818947427683" y2="125.2" stroke="#111" stroke-width="0.7"/>
<line x1="386.883" y1="123.2" x2="386.883" y2="125.2" stroke="#111" stroke-width="0.7"/>
<line x1="342.3" y1="92.4" x2="371.2" y2="92.4" stroke="#111" stroke-width="1.1"/>
<line x1="342.3" y1="90.4" x2="342.3" y2="94.4" stroke="#111" stroke-width="1.1"/>
<line x1="371.2" y1="90.4" x2="371.2" y2="94.4" stroke="#111" stroke-width="1.1"/>
<text class="s" x="359.15" y="90.7" font-size="7.9" text-anchor="middle" font-weight="normal" fill="#111" >96.2</text>
<text class="s" x="466.5" y="24.7" font-size="9.2" text-anchor="middle" fill="#111" textLength="66.6" lengthAdjust="spacingAndGlyphs">Flk2<tspan font-size="6.4" dy="-2.9" style="stroke-width:0">neg</tspan><tspan dy="2.9">/CD34</tspan><tspan font-size="6.4" dy="-2.9" style="stroke-width:0">neg</tspan></text>
<rect x="440.50" y="91.90" width="14.50" height="31.00" fill="url(#kB)"/>
<rect x="445.60" y="91.90" width="6.40" height="31.00" fill="url(#kB)"/>
<rect x="436.60" y="91.90" width="1.20" height="31.00" fill="url(#fB)"/>
<rect x="441.40" y="33.00" width="1.20" height="89.90" fill="url(#fB)"/>
<rect x="442.80" y="33.00" width="1.20" height="89.90" fill="url(#fB)"/>
<rect x="443.80" y="64.00" width="1.20" height="58.90" fill="url(#fB)"/>
<rect x="449.00" y="33.00" width="1.20" height="89.90" fill="url(#fB)"/>
<rect x="450.70" y="33.00" width="1.20" height="89.90" fill="url(#fB)"/>
<rect x="452.90" y="33.00" width="1.20" height="89.90" fill="url(#fR)"/>
<rect x="455.80" y="64.00" width="1.20" height="58.90" fill="url(#fR)"/>
<rect x="458.70" y="64.00" width="1.20" height="58.90" fill="url(#fR)"/>
<rect x="460.90" y="64.00" width="1.20" height="58.90" fill="url(#fR)"/>
<rect x="464.00" y="64.00" width="1.20" height="58.90" fill="url(#fR)"/>
<rect x="471.30" y="91.90" width="1.20" height="31.00" fill="url(#fR)"/>
<rect x="477.10" y="101.20" width="1.20" height="21.70" fill="url(#fR)"/>
<rect x="463.60" y="91.90" width="2.90" height="31.00" fill="url(#gR)"/>
<rect x="419.8" y="29.9" width="93.30000000000001" height="93.0" fill="none" stroke="#111" stroke-width="1.3"/>
<line x1="416.3" y1="122.9" x2="419.8" y2="122.9" stroke="#111" stroke-width="0.9"/>
<text class="s" x="414.6" y="126.5" font-size="8.2" text-anchor="end" font-weight="normal" fill="#111" style="stroke-width:0.06px">0</text>
<line x1="416.3" y1="91.9" x2="419.8" y2="91.9" stroke="#111" stroke-width="0.9"/>
<text class="s" x="414.6" y="95.5" font-size="8.2" text-anchor="end" font-weight="normal" fill="#111" style="stroke-width:0.06px">1.00</text>
<line x1="416.3" y1="60.900000000000006" x2="419.8" y2="60.900000000000006" stroke="#111" stroke-width="0.9"/>
<text class="s" x="414.6" y="64.5" font-size="8.2" text-anchor="end" font-weight="normal" fill="#111" style="stroke-width:0.06px">2.0</text>
<line x1="416.3" y1="29.900000000000006" x2="419.8" y2="29.900000000000006" stroke="#111" stroke-width="0.9"/>
<text class="s" x="414.6" y="33.50000000000001" font-size="8.2" text-anchor="end" font-weight="normal" fill="#111" style="stroke-width:0.06px">3.0</text>
<line x1="417.8" y1="115.15" x2="419.8" y2="115.15" stroke="#111" stroke-width="0.7"/>
<line x1="417.8" y1="107.4" x2="419.8" y2="107.4" stroke="#111" stroke-width="0.7"/>
<line x1="417.8" y1="99.65" x2="419.8" y2="99.65" stroke="#111" stroke-width="0.7"/>
<line x1="417.8" y1="84.15" x2="419.8" y2="84.15" stroke="#111" stroke-width="0.7"/>
<line x1="417.8" y1="76.4" x2="419.8" y2="76.4" stroke="#111" stroke-width="0.7"/>
<line x1="417.8" y1="68.65" x2="419.8" y2="68.65" stroke="#111" stroke-width="0.7"/>
<line x1="417.8" y1="53.150000000000006" x2="419.8" y2="53.150000000000006" stroke="#111" stroke-width="0.7"/>
<line x1="417.8" y1="45.400000000000006" x2="419.8" y2="45.400000000000006" stroke="#111" stroke-width="0.7"/>
<line x1="417.8" y1="37.650000000000006" x2="419.8" y2="37.650000000000006" stroke="#111" stroke-width="0.7"/>
<text class="s" x="440.2" y="134.3" font-size="8.2" text-anchor="middle" font-weight="normal" fill="#111" >0</text>
<text x="460.8" y="134.3" font-size="8.2" text-anchor="middle" fill="#111">10<tspan font-size="6.3" dy="-3.2">3</tspan></text>
<text x="482.8" y="134.3" font-size="8.2" text-anchor="middle" fill="#111">10<tspan font-size="6.3" dy="-3.2">4</tspan></text>
<text x="505.4" y="134.3" font-size="8.2" text-anchor="middle" fill="#111">10<tspan font-size="6.3" dy="-3.2">5</tspan></text>
<line x1="422.599" y1="122.9" x2="422.599" y2="124.9" stroke="#111" stroke-width="0.7"/>
<line x1="426.331" y1="122.9" x2="426.331" y2="124.9" stroke="#111" stroke-width="0.7"/>
<line x1="429.13" y1="122.9" x2="429.13" y2="124.9" stroke="#111" stroke-width="0.7"/>
<line x1="431.92900000000003" y1="122.9" x2="431.92900000000003" y2="124.9" stroke="#111" stroke-width="0.7"/>
<line x1="436.594" y1="122.9" x2="436.594" y2="124.9" stroke="#111" stroke-width="0.7"/>
<line x1="440.326" y1="122.9" x2="440.326" y2="124.9" stroke="#111" stroke-width="0.7"/>
<line x1="444.058" y1="122.9" x2="444.058" y2="124.9" stroke="#111" stroke-width="0.7"/>
<line x1="447.79" y1="122.9" x2="447.79" y2="124.9" stroke="#111" stroke-width="0.7"/>
<line x1="451.522" y1="122.9" x2="451.522" y2="124.9" stroke="#111" stroke-width="0.7"/>
<line x1="455.254" y1="122.9" x2="455.254" y2="124.9" stroke="#111" stroke-width="0.7"/>
<line x1="458.986" y1="122.9" x2="458.986" y2="124.9" stroke="#111" stroke-width="0.7"/>
<line x1="462.718" y1="122.9" x2="462.718" y2="124.9" stroke="#111" stroke-width="0.7"/>
<line x1="469.31823316993064" y1="122.9" x2="469.31823316993064" y2="124.9" stroke="#111" stroke-width="0.7"/>
<line x1="473.17912207035596" y1="122.9" x2="473.17912207035596" y2="124.9" stroke="#111" stroke-width="0.7"/>
<line x1="475.91846633986125" y1="122.9" x2="475.91846633986125" y2="124.9" stroke="#111" stroke-width="0.7"/>
<line x1="478.0432668300694" y1="122.9" x2="478.0432668300694" y2="124.9" stroke="#111" stroke-width="0.7"/>
<line x1="479.7793552402866" y1="122.9" x2="479.7793552402866" y2="124.9" stroke="#111" stroke-width="0.7"/>
<line x1="481.2471970763326" y1="122.9" x2="481.2471970763326" y2="124.9" stroke="#111" stroke-width="0.7"/>
<line x1="482.5186995097919" y1="122.9" x2="482.5186995097919" y2="124.9" stroke="#111" stroke-width="0.7"/>
<line x1="483.64024414071196" y1="122.9" x2="483.64024414071196" y2="124.9" stroke="#111" stroke-width="0.7"/>
<line x1="484.6435" y1="122.9" x2="484.6435" y2="124.9" stroke="#111" stroke-width="0.7"/>
<line x1="491.24373316993064" y1="122.9" x2="491.24373316993064" y2="124.9" stroke="#111" stroke-width="0.7"/>
<line x1="495.10462207035596" y1="122.9" x2="495.10462207035596" y2="124.9" stroke="#111" stroke-width="0.7"/>
<line x1="497.84396633986125" y1="122.9" x2="497.84396633986125" y2="124.9" stroke="#111" stroke-width="0.7"/>
<line x1="499.9687668300694" y1="122.9" x2="499.9687668300694" y2="124.9" stroke="#111" stroke-width="0.7"/>
<line x1="501.7048552402866" y1="122.9" x2="501.7048552402866" y2="124.9" stroke="#111" stroke-width="0.7"/>
<line x1="503.1726970763326" y1="122.9" x2="503.1726970763326" y2="124.9" stroke="#111" stroke-width="0.7"/>
<line x1="504.4441995097919" y1="122.9" x2="504.4441995097919" y2="124.9" stroke="#111" stroke-width="0.7"/>
<line x1="505.56574414071196" y1="122.9" x2="505.56574414071196" y2="124.9" stroke="#111" stroke-width="0.7"/>
<line x1="506.569" y1="122.9" x2="506.569" y2="124.9" stroke="#111" stroke-width="0.7"/>
<line x1="459.6" y1="102.4" x2="497.4" y2="102.4" stroke="#111" stroke-width="1.1"/>
<line x1="459.6" y1="100.4" x2="459.6" y2="104.4" stroke="#111" stroke-width="1.1"/>
<line x1="497.4" y1="100.4" x2="497.4" y2="104.4" stroke="#111" stroke-width="1.1"/>
<text class="s" x="480.9" y="99.4" font-size="7.9" text-anchor="middle" font-weight="normal" fill="#111" >53.1</text>
<line x1="276.2" y1="35" x2="276.2" y2="139.0" stroke="#555" stroke-width="1.5"/>
<line x1="276.2" y1="139.0" x2="510" y2="139.0" stroke="#555" stroke-width="1.5"/>
<polygon points="276.2,31.8 274.1,36.2 278.3,36.2" fill="#111"/>
<polygon points="512.9,139 508.6,136.9 508.6,141.1" fill="#111"/>
<text class="s" x="270.2" y="86.6" font-size="9.6" text-anchor="middle" font-weight="normal" fill="#111" textLength="28.1" lengthAdjust="spacingAndGlyphs" style="stroke-width:0.45px" transform="rotate(-90 270.2 86.6)">Cell count</text>
<text class="s" x="393.3" y="151.8" font-size="9.0" text-anchor="middle" font-weight="normal" fill="#111" textLength="50.4" lengthAdjust="spacingAndGlyphs" style="stroke-width:0.4px">E-selectin binding</text>
<line x1="343" y1="164.6" x2="354.5" y2="164.6" stroke="#3f74a6" stroke-width="1.7"/>
<text class="s" x="358" y="166.5" font-size="7.0" text-anchor="start" font-weight="normal" fill="#111" >E-Ig EDTA</text>
<line x1="398" y1="164.6" x2="411.2" y2="164.6" stroke="#d03a55" stroke-width="1.7"/>
<text x="414" y="166.5" font-size="7" fill="#111">E-Ig Ca<tspan font-size="5" dy="-2.8">2+</tspan></text>
<text class="s" x="8.5" y="193" font-size="9" text-anchor="start" font-weight="bold" fill="#000" >ii</text>
<text class="s" x="155" y="193" font-size="10.5" text-anchor="start" font-weight="bold" fill="#000" style="stroke-width:0.3px">B</text>
<text class="s" x="367" y="193" font-size="10.5" text-anchor="start" font-weight="bold" fill="#000" style="stroke-width:0.3px">C</text>
<line x1="39.1" y1="198" x2="39.1" y2="316.2" stroke="#111" stroke-width="1.1"/>
<line x1="39.1" y1="315.7" x2="144.2" y2="315.7" stroke="#111" stroke-width="1.1"/>
<line x1="35.6" y1="315.7" x2="39.1" y2="315.7" stroke="#111" stroke-width="0.9"/>
<text class="s" x="33.1" y="318.9" font-size="8.2" text-anchor="end" font-weight="normal" fill="#111" >0</text>
<line x1="35.6" y1="293.94" x2="39.1" y2="293.94" stroke="#111" stroke-width="0.9"/>
<text class="s" x="33.1" y="297.14" font-size="8.2" text-anchor="end" font-weight="normal" fill="#111" >20</text>
<line x1="35.6" y1="272.18" x2="39.1" y2="272.18" stroke="#111" stroke-width="0.9"/>
<text class="s" x="33.1" y="275.38" font-size="8.2" text-anchor="end" font-weight="normal" fill="#111" >40</text>
<line x1="35.6" y1="250.42" x2="39.1" y2="250.42" stroke="#111" stroke-width="0.9"/>
<text class="s" x="33.1" y="253.61999999999998" font-size="8.2" text-anchor="end" font-weight="normal" fill="#111" >60</text>
<line x1="35.6" y1="228.65999999999997" x2="39.1" y2="228.65999999999997" stroke="#111" stroke-width="0.9"/>
<text class="s" x="33.1" y="231.85999999999996" font-size="8.2" text-anchor="end" font-weight="normal" fill="#111" >80</text>
<line x1="35.6" y1="206.89999999999998" x2="39.1" y2="206.89999999999998" stroke="#111" stroke-width="0.9"/>
<text class="s" x="33.1" y="210.09999999999997" font-size="8.2" text-anchor="end" font-weight="normal" fill="#111" >100</text>
<rect x="46.6" y="248.24399999999997" width="11.399999999999999" height="67.45600000000002" fill="#115284"/>
<line x1="52.3" y1="238.452" x2="52.3" y2="248.24399999999997" stroke="#111" stroke-width="0.9"/>
<line x1="49.699999999999996" y1="238.452" x2="54.9" y2="238.452" stroke="#111" stroke-width="1.0"/>
<rect x="66.5" y="306.996" width="11.299999999999997" height="8.704000000000008" fill="#C4142F"/>
<line x1="72.15" y1="300.46799999999996" x2="72.15" y2="306.996" stroke="#111" stroke-width="0.9"/>
<line x1="69.55000000000001" y1="300.46799999999996" x2="74.75" y2="300.46799999999996" stroke="#111" stroke-width="1.0"/>
<rect x="98.8" y="218.868" width="11.600000000000009" height="96.832" fill="#115284"/>
<line x1="104.6" y1="209.07599999999996" x2="104.6" y2="218.868" stroke="#111" stroke-width="0.9"/>
<line x1="102.0" y1="209.07599999999996" x2="107.19999999999999" y2="209.07599999999996" stroke="#111" stroke-width="1.0"/>
<rect x="118.4" y="268.916" width="11.400000000000006" height="46.78399999999999" fill="#C4142F"/>
<line x1="124.10000000000001" y1="259.12399999999997" x2="124.10000000000001" y2="268.916" stroke="#111" stroke-width="0.9"/>
<line x1="121.50000000000001" y1="259.12399999999997" x2="126.7" y2="259.12399999999997" stroke="#111" stroke-width="1.0"/>
<line x1="62" y1="315.7" x2="62" y2="318.2" stroke="#111" stroke-width="0.9"/>
<text class="s" x="62.1" y="327.3" font-size="8.0" text-anchor="middle" font-weight="normal" fill="#111" textLength="36.4" lengthAdjust="spacingAndGlyphs" >HECA-452</text>
<line x1="113.8" y1="315.7" x2="113.8" y2="318.2" stroke="#111" stroke-width="0.9"/>
<text class="s" x="114.4" y="327.3" font-size="8.0" text-anchor="middle" font-weight="normal" fill="#111" textLength="57.5" lengthAdjust="spacingAndGlyphs" >E-selectin binding</text>
<polyline points="52.4,233.3 52.4,228.8 71.2,228.8 71.2,291.3" fill="none" stroke="#111" stroke-width="0.9"/>
<text class="s" x="61.8" y="228.9" font-size="9.3" text-anchor="middle" font-weight="bold" fill="#111" style="stroke-width:0">***</text>
<polyline points="104.2,202.7 104.2,198.8 124.5,198.8 124.5,254.1" fill="none" stroke="#111" stroke-width="0.9"/>
<text class="s" x="114.35" y="198.9" font-size="9.3" text-anchor="middle" font-weight="bold" fill="#111" style="stroke-width:0">**</text>
<text class="s" x="13.9" y="257" font-size="9.2" text-anchor="middle" font-weight="normal" fill="#111" textLength="45.4" lengthAdjust="spacingAndGlyphs" stroke="#111" stroke-width="0.2" transform="rotate(-90 13.9 257)">% of expression</text>
<line x1="187.2" y1="203.6" x2="187.2" y2="316.2" stroke="#111" stroke-width="1.1"/>
<line x1="187.2" y1="315.7" x2="355.5" y2="315.7" stroke="#111" stroke-width="1.1"/>
<line x1="183.7" y1="315.7" x2="187.2" y2="315.7" stroke="#111" stroke-width="0.9"/>
<text class="s" x="181.2" y="318.9" font-size="8.2" text-anchor="end" font-weight="normal" fill="#111" >0</text>
<line x1="183.7" y1="288.52" x2="187.2" y2="288.52" stroke="#111" stroke-width="0.9"/>
<text class="s" x="181.2" y="291.71999999999997" font-size="8.2" text-anchor="end" font-weight="normal" fill="#111" >30</text>
<line x1="183.7" y1="261.34" x2="187.2" y2="261.34" stroke="#111" stroke-width="0.9"/>
<text class="s" x="181.2" y="264.53999999999996" font-size="8.2" text-anchor="end" font-weight="normal" fill="#111" >60</text>
<line x1="183.7" y1="234.15999999999997" x2="187.2" y2="234.15999999999997" stroke="#111" stroke-width="0.9"/>
<text class="s" x="181.2" y="237.35999999999996" font-size="8.2" text-anchor="end" font-weight="normal" fill="#111" >90</text>
<line x1="183.7" y1="206.98" x2="187.2" y2="206.98" stroke="#111" stroke-width="0.9"/>
<text class="s" x="181.2" y="210.17999999999998" font-size="8.2" text-anchor="end" font-weight="normal" fill="#111" >120</text>
<rect x="193.1" y="295.4056" width="9.599999999999994" height="20.294399999999996" fill="#115284"/>
<line x1="197.89999999999998" y1="291.78159999999997" x2="197.89999999999998" y2="295.4056" stroke="#111" stroke-width="0.9"/>
<line x1="195.29999999999998" y1="291.78159999999997" x2="200.49999999999997" y2="291.78159999999997" stroke="#111" stroke-width="1.0"/>
<rect x="208.8" y="304.1032" width="11.0" height="11.596799999999973" fill="#C4142F"/>
<line x1="214.3" y1="303.5596" x2="214.3" y2="304.1032" stroke="#111" stroke-width="0.9"/>
<line x1="211.70000000000002" y1="303.5596" x2="216.9" y2="303.5596" stroke="#111" stroke-width="1.0"/>
<rect x="237.3" y="237.331" width="9.0" height="78.369" fill="#115284"/>
<line x1="241.8" y1="219.84519999999998" x2="241.8" y2="237.331" stroke="#111" stroke-width="0.9"/>
<line x1="239.20000000000002" y1="219.84519999999998" x2="244.4" y2="219.84519999999998" stroke="#111" stroke-width="1.0"/>
<rect x="252.7" y="231.442" width="11.0" height="84.25799999999998" fill="#C4142F"/>
<line x1="258.2" y1="224.4658" x2="258.2" y2="231.442" stroke="#111" stroke-width="0.9"/>
<line x1="255.6" y1="224.4658" x2="260.8" y2="224.4658" stroke="#111" stroke-width="1.0"/>
<rect x="281.2" y="233.7976" width="8.800000000000011" height="81.9024" fill="#115284"/>
<line x1="285.6" y1="222.5632" x2="285.6" y2="233.7976" stroke="#111" stroke-width="0.9"/>
<line x1="283.0" y1="222.5632" x2="288.20000000000005" y2="222.5632" stroke="#111" stroke-width="1.0"/>
<rect x="296.9" y="225.09999999999997" width="10.600000000000023" height="90.60000000000002" fill="#C4142F"/>
<rect x="325.2" y="229.35819999999998" width="8.800000000000011" height="86.3418" fill="#115284"/>
<line x1="329.6" y1="224.5564" x2="329.6" y2="229.35819999999998" stroke="#111" stroke-width="0.9"/>
<line x1="327.0" y1="224.5564" x2="332.20000000000005" y2="224.5564" stroke="#111" stroke-width="1.0"/>
<rect x="340.4" y="228.4522" width="11.0" height="87.24779999999998" fill="#C4142F"/>
<line x1="345.9" y1="226.6402" x2="345.9" y2="228.4522" stroke="#111" stroke-width="0.9"/>
<line x1="343.29999999999995" y1="226.6402" x2="348.5" y2="226.6402" stroke="#111" stroke-width="1.0"/>
<line x1="206" y1="315.7" x2="206" y2="318.2" stroke="#111" stroke-width="0.9"/>
<text class="s" x="206" y="327.3" font-size="8.0" text-anchor="middle" font-weight="normal" fill="#111" >CXCR4</text>
<line x1="250" y1="315.7" x2="250" y2="318.2" stroke="#111" stroke-width="0.9"/>
<text class="s" x="250" y="327.3" font-size="8.0" text-anchor="middle" font-weight="normal" fill="#111" >CD49e</text>
<line x1="293.8" y1="315.7" x2="293.8" y2="318.2" stroke="#111" stroke-width="0.9"/>
<text class="s" x="293.8" y="327.3" font-size="8.0" text-anchor="middle" font-weight="normal" fill="#111" >CD49d</text>
<line x1="337.5" y1="315.7" x2="337.5" y2="318.2" stroke="#111" stroke-width="0.9"/>
<text class="s" x="337.5" y="327.3" font-size="8.0" text-anchor="middle" font-weight="normal" fill="#111" >CD29</text>
<polyline points="197,285.5 197,282.5 215.6,282.5 215.6,300.4" fill="none" stroke="#111" stroke-width="0.9"/>
<text class="s" x="206.3" y="282.6" font-size="9.3" text-anchor="middle" font-weight="bold" fill="#111" style="stroke-width:0">**</text>
<text class="s" x="162.0" y="259" font-size="9.2" text-anchor="middle" font-weight="normal" fill="#111" textLength="45.4" lengthAdjust="spacingAndGlyphs" stroke="#111" stroke-width="0.2" transform="rotate(-90 162.0 259)">% of expression</text>
<line x1="398.7" y1="202.8" x2="398.7" y2="316.0" stroke="#111" stroke-width="1.1"/>
<line x1="398.7" y1="315.5" x2="506.6" y2="315.5" stroke="#111" stroke-width="1.1"/>
<line x1="395.2" y1="315.5" x2="398.7" y2="315.5" stroke="#111" stroke-width="0.9"/>
<text class="s" x="392.7" y="318.7" font-size="8.2" text-anchor="end" font-weight="normal" fill="#111" >0</text>
<line x1="395.2" y1="297.45" x2="398.7" y2="297.45" stroke="#111" stroke-width="0.9"/>
<text class="s" x="392.7" y="300.65" font-size="8.2" text-anchor="end" font-weight="normal" fill="#111" >20</text>
<line x1="395.2" y1="279.4" x2="398.7" y2="279.4" stroke="#111" stroke-width="0.9"/>
<text class="s" x="392.7" y="282.59999999999997" font-size="8.2" text-anchor="end" font-weight="normal" fill="#111" >40</text>
<line x1="395.2" y1="261.35" x2="398.7" y2="261.35" stroke="#111" stroke-width="0.9"/>
<text class="s" x="392.7" y="264.55" font-size="8.2" text-anchor="end" font-weight="normal" fill="#111" >60</text>
<line x1="395.2" y1="243.3" x2="398.7" y2="243.3" stroke="#111" stroke-width="0.9"/>
<text class="s" x="392.7" y="246.5" font-size="8.2" text-anchor="end" font-weight="normal" fill="#111" >80</text>
<line x1="395.2" y1="225.25" x2="398.7" y2="225.25" stroke="#111" stroke-width="0.9"/>
<text class="s" x="392.7" y="228.45" font-size="8.2" text-anchor="end" font-weight="normal" fill="#111" >100</text>
<line x1="395.2" y1="207.2" x2="398.7" y2="207.2" stroke="#111" stroke-width="0.9"/>
<text class="s" x="392.7" y="210.39999999999998" font-size="8.2" text-anchor="end" font-weight="normal" fill="#111" >120</text>
<rect x="403.7" y="231.2065" width="9.0" height="84.2935" fill="#115284"/>
<line x1="408.2" y1="224.70850000000002" x2="408.2" y2="231.2065" stroke="#111" stroke-width="0.9"/>
<line x1="405.59999999999997" y1="224.70850000000002" x2="410.8" y2="224.70850000000002" stroke="#111" stroke-width="1.0"/>
<rect x="417.3" y="260.8085" width="9.699999999999989" height="54.69150000000002" fill="#C4142F"/>
<line x1="422.15" y1="240.5925" x2="422.15" y2="260.8085" stroke="#111" stroke-width="0.9"/>
<line x1="419.54999999999995" y1="240.5925" x2="424.75" y2="240.5925" stroke="#111" stroke-width="1.0"/>
<rect x="441" y="234.275" width="9.800000000000011" height="81.225" fill="#115284"/>
<line x1="445.9" y1="226.60375" x2="445.9" y2="234.275" stroke="#111" stroke-width="0.9"/>
<line x1="443.29999999999995" y1="226.60375" x2="448.5" y2="226.60375" stroke="#111" stroke-width="1.0"/>
<rect x="455" y="225.25" width="10" height="90.25" fill="#C4142F"/>
<line x1="460.0" y1="224.97925" x2="460.0" y2="225.25" stroke="#111" stroke-width="0.9"/>
<line x1="457.4" y1="224.97925" x2="462.6" y2="224.97925" stroke="#111" stroke-width="1.0"/>
<rect x="479" y="225.70125000000002" width="9.399999999999977" height="89.79874999999998" fill="#115284"/>
<line x1="483.7" y1="225.25" x2="483.7" y2="225.70125000000002" stroke="#111" stroke-width="0.9"/>
<line x1="481.09999999999997" y1="225.25" x2="486.3" y2="225.25" stroke="#111" stroke-width="1.0"/>
<rect x="492.8" y="227.95749999999998" width="9.899999999999977" height="87.54250000000002" fill="#C4142F"/>
<line x1="497.75" y1="226.60375" x2="497.75" y2="227.95749999999998" stroke="#111" stroke-width="0.9"/>
<line x1="495.15" y1="226.60375" x2="500.35" y2="226.60375" stroke="#111" stroke-width="1.0"/>
<line x1="415" y1="315.5" x2="415" y2="318.0" stroke="#111" stroke-width="0.9"/>
<text class="s" x="415" y="327.1" font-size="8.0" text-anchor="middle" font-weight="normal" fill="#111" >CD43</text>
<line x1="452.6" y1="315.5" x2="452.6" y2="318.0" stroke="#111" stroke-width="0.9"/>
<text class="s" x="452.6" y="327.1" font-size="8.0" text-anchor="middle" font-weight="normal" fill="#111" >CD44</text>
<line x1="490.5" y1="315.5" x2="490.5" y2="318.0" stroke="#111" stroke-width="0.9"/>
<text class="s" x="490.5" y="327.1" font-size="8.0" text-anchor="middle" font-weight="normal" fill="#111" >CD162</text>
<polyline points="404.5,214.3 404.5,212.4 423.6,212.4 423.6,237.1" fill="none" stroke="#111" stroke-width="0.9"/>
<text class="s" x="414.05" y="212.5" font-size="9.3" text-anchor="middle" font-weight="bold" fill="#111" style="stroke-width:0">**</text>
<text class="s" x="373.6" y="259.4" font-size="9.2" text-anchor="middle" font-weight="normal" fill="#111" textLength="45.4" lengthAdjust="spacingAndGlyphs" stroke="#111" stroke-width="0.2" transform="rotate(-90 373.6 259.4)">% of expression</text>
<rect x="23.9" y="339.79999999999995" width="4.6" height="4.6" fill="#115284"/>
<text class="s" x="31.2" y="344.4" font-size="7.2" fill="#111" textLength="52.5" lengthAdjust="spacingAndGlyphs">Flk2<tspan font-size="5.8" dy="-2.1">neg</tspan><tspan dy="2.1">/CD34</tspan><tspan font-size="5.8" dy="-2.1">pos</tspan></text>
<rect x="90.9" y="339.79999999999995" width="4.6" height="4.6" fill="#C4142F"/>
<text class="s" x="98.2" y="344.4" font-size="7.2" fill="#111" textLength="50.9" lengthAdjust="spacingAndGlyphs">Flk2<tspan font-size="5.8" dy="-2.1">neg</tspan><tspan dy="2.1">/CD34</tspan><tspan font-size="5.8" dy="-2.1">neg</tspan></text>
<rect x="208.1" y="339.79999999999995" width="4.6" height="4.6" fill="#115284"/>
<text class="s" x="215.4" y="344.4" font-size="7.2" fill="#111" textLength="52.5" lengthAdjust="spacingAndGlyphs">Flk2<tspan font-size="5.8" dy="-2.1">neg</tspan><tspan dy="2.1">/CD34</tspan><tspan font-size="5.8" dy="-2.1">pos</tspan></text>
<rect x="275.4" y="339.79999999999995" width="4.6" height="4.6" fill="#C4142F"/>
<text class="s" x="282.7" y="344.4" font-size="7.2" fill="#111" textLength="50.9" lengthAdjust="spacingAndGlyphs">Flk2<tspan font-size="5.8" dy="-2.1">neg</tspan><tspan dy="2.1">/CD34</tspan><tspan font-size="5.8" dy="-2.1">neg</tspan></text>
<rect x="388.9" y="339.79999999999995" width="4.6" height="4.6" fill="#115284"/>
<text class="s" x="396.2" y="344.4" font-size="7.2" fill="#111" textLength="51.1" lengthAdjust="spacingAndGlyphs">Flk2<tspan font-size="5.8" dy="-2.1">neg</tspan><tspan dy="2.1">/CD34</tspan><tspan font-size="5.8" dy="-2.1">pos</tspan></text>
<rect x="455.1" y="339.79999999999995" width="4.6" height="4.6" fill="#C4142F"/>
<text class="s" x="462.40000000000003" y="344.4" font-size="7.2" fill="#111" textLength="51.7" lengthAdjust="spacingAndGlyphs">Flk2<tspan font-size="5.8" dy="-2.1">neg</tspan><tspan dy="2.1">/CD34</tspan><tspan font-size="5.8" dy="-2.1">neg</tspan></text>
<text class="s" x="7" y="370.4" font-size="10.8" text-anchor="start" font-weight="bold" fill="#000" style="stroke-width:0.3px">D</text>
<rect x="189.5" y="393.8" width="129.7" height="6.4" fill="#115284"/>
<text class="d" x="205.75" y="398.50" font-size="5.6" text-anchor="end" fill="#1a1a1a" transform="scale(0.905,1)">CD43 leukosialin (fragment) GN=Spn</text>
<rect x="189.5" y="405.83" width="99.0" height="6.4" fill="#115284"/>
<text class="d" x="205.75" y="410.53" font-size="5.6" text-anchor="end" fill="#1a1a1a" transform="scale(0.905,1)">Galectin OS GN=Lgals9</text>
<rect x="189.5" y="417.86" width="88.5" height="6.4" fill="#115284"/>
<text class="d" x="205.75" y="422.56" font-size="5.6" text-anchor="end" fill="#1a1a1a" transform="scale(0.905,1)">Fibronectin β-chain GN=Fgb</text>
<rect x="189.5" y="429.89" width="67.80000000000001" height="6.4" fill="#115284"/>
<text class="d" x="205.75" y="434.59" font-size="5.6" text-anchor="end" fill="#1a1a1a" transform="scale(0.905,1)">Cyclin-dependent-like kinase 5 GN=Cdk5</text>
<rect x="189.5" y="441.92" width="54.69999999999999" height="6.4" fill="#115284"/>
<text class="d" x="205.75" y="446.62" font-size="5.6" text-anchor="end" fill="#1a1a1a" transform="scale(0.905,1)">Clathrin interactor 1 GN=Clint1</text>
<rect x="189.5" y="453.95" width="47.5" height="6.4" fill="#115284"/>
<text class="d" x="205.75" y="458.65" font-size="5.6" text-anchor="end" fill="#1a1a1a" transform="scale(0.905,1)">Integrin α-IIb GN=Itga2b</text>
<rect x="189.5" y="465.98" width="30.900000000000006" height="6.4" fill="#115284"/>
<text class="d" x="205.75" y="470.68" font-size="5.6" text-anchor="end" fill="#1a1a1a" transform="scale(0.905,1)">Galectin-1 GN=Lgals1</text>
<rect x="189.5" y="478.01" width="30.19999999999999" height="6.4" fill="#115284"/>
<text class="d" x="205.75" y="482.71" font-size="5.6" text-anchor="end" fill="#1a1a1a" transform="scale(0.905,1)">T-lymphoma invasion &amp; metastasis-inducing protein 1 GN=Tiam1</text>
<rect x="189.5" y="490.04" width="21.19999999999999" height="6.4" fill="#115284"/>
<text class="d" x="205.75" y="494.74" font-size="5.6" text-anchor="end" fill="#1a1a1a" transform="scale(0.905,1)">Integrin β-1-binding protein 1 GN=Itgb1bp1</text>
<rect x="189.5" y="502.07" width="21.19999999999999" height="6.4" fill="#115284"/>
<text class="d" x="205.75" y="506.77" font-size="5.6" text-anchor="end" fill="#1a1a1a" transform="scale(0.905,1)">Hamartin GN=Tsc1</text>
<rect x="189.5" y="514.1" width="21.69999999999999" height="6.4" fill="#115284"/>
<text class="d" x="205.75" y="518.80" font-size="5.6" text-anchor="end" fill="#1a1a1a" transform="scale(0.905,1)">Engulfment &amp; cell motility protein 2 GN=Elmo2</text>
<rect x="189.5" y="526.13" width="19.30000000000001" height="6.4" fill="#115284"/>
<text class="d" x="205.75" y="530.83" font-size="5.6" text-anchor="end" fill="#1a1a1a" transform="scale(0.905,1)">Hematopoietic progenitor cell antigen CD34 GN=Cd34</text>
<rect x="189.5" y="538.16" width="19.30000000000001" height="6.4" fill="#115284"/>
<text class="d" x="205.75" y="542.86" font-size="5.6" text-anchor="end" fill="#1a1a1a" transform="scale(0.905,1)">Leukocyte surface antigen CD47 GN=Cd47</text>
<rect x="189.5" y="550.19" width="16.30000000000001" height="6.4" fill="#115284"/>
<text class="d" x="205.75" y="554.89" font-size="5.6" text-anchor="end" fill="#1a1a1a" transform="scale(0.905,1)">Fibronectin (fragment) GN=Fn1</text>
<rect x="189.5" y="562.22" width="14.300000000000011" height="6.4" fill="#115284"/>
<text class="d" x="205.75" y="566.92" font-size="5.6" text-anchor="end" fill="#1a1a1a" transform="scale(0.905,1)">Fibronectin α chain GN=Fga</text>
<rect x="189.5" y="574.25" width="13.300000000000011" height="6.4" fill="#115284"/>
<text class="d" x="205.75" y="578.95" font-size="5.6" text-anchor="end" fill="#1a1a1a" transform="scale(0.905,1)">Integrin β-2 GN=Itgb2</text>
<rect x="189.5" y="586.28" width="12.900000000000006" height="6.4" fill="#115284"/>
<text class="d" x="205.75" y="590.98" font-size="5.6" text-anchor="end" fill="#1a1a1a" transform="scale(0.905,1)">Integrin β-3 GN=Itgb3</text>
<rect x="189.5" y="598.31" width="12.0" height="6.4" fill="#115284"/>
<text class="d" x="205.75" y="603.01" font-size="5.6" text-anchor="end" fill="#1a1a1a" transform="scale(0.905,1)">Paxillin GN=Pxn</text>
<rect x="189.5" y="610.34" width="11.199999999999989" height="6.4" fill="#115284"/>
<text class="d" x="205.75" y="615.04" font-size="5.6" text-anchor="end" fill="#1a1a1a" transform="scale(0.905,1)">A disintegrin &amp; metalloproteinase with thrombospondin motifs 12 GN=Adamts 12</text>
<rect x="189.5" y="622.37" width="11.199999999999989" height="6.4" fill="#115284"/>
<text class="d" x="205.75" y="627.07" font-size="5.6" text-anchor="end" fill="#1a1a1a" transform="scale(0.905,1)">Adhesion G protein-coupled receptor L3 GN=Adgrl3 PE=1 SV=1</text>
<rect x="189.5" y="634.4" width="9.400000000000006" height="6.4" fill="#115284"/>
<text class="d" x="205.75" y="639.10" font-size="5.6" text-anchor="end" fill="#1a1a1a" transform="scale(0.905,1)">Zyxprotein GN=Zyx</text>
<line x1="189.3" y1="387.3" x2="189.3" y2="647.3" stroke="#111" stroke-width="1.1"/>
<line x1="189.3" y1="387.3" x2="328.5" y2="387.3" stroke="#111" stroke-width="1.1"/>
<line x1="189.5" y1="383.5" x2="189.5" y2="387.3" stroke="#111" stroke-width="0.9"/>
<text class="s" x="189.5" y="381.3" font-size="7.3" text-anchor="middle" font-weight="normal" fill="#111" >0</text>
<line x1="220.425" y1="383.5" x2="220.425" y2="387.3" stroke="#111" stroke-width="0.9"/>
<text class="s" x="220.425" y="381.3" font-size="7.3" text-anchor="middle" font-weight="normal" fill="#111" >50</text>
<line x1="251.35000000000002" y1="383.5" x2="251.35000000000002" y2="387.3" stroke="#111" stroke-width="0.9"/>
<text class="s" x="251.35000000000002" y="381.3" font-size="7.3" text-anchor="middle" font-weight="normal" fill="#111" >100</text>
<line x1="282.275" y1="383.5" x2="282.275" y2="387.3" stroke="#111" stroke-width="0.9"/>
<text class="s" x="282.275" y="381.3" font-size="7.3" text-anchor="middle" font-weight="normal" fill="#111" >150</text>
<line x1="313.20000000000005" y1="383.5" x2="313.20000000000005" y2="387.3" stroke="#111" stroke-width="0.9"/>
<text class="s" x="313.20000000000005" y="381.3" font-size="7.3" text-anchor="middle" font-weight="normal" fill="#111" >200</text>
<text class="s" x="258.9" y="371.0" font-size="8.4" text-anchor="middle" font-weight="normal" fill="#111" textLength="35.7" lengthAdjust="spacingAndGlyphs" stroke="#111" stroke-width="0.12">-log (P-value)</text>
<text x="248" y="446.7" font-size="7.8" fill="#111" textLength="49.6" lengthAdjust="spacingAndGlyphs">Flk2<tspan font-size="5.8" dy="-2.9">neg</tspan><tspan dy="2.9"> CD34</tspan><tspan font-size="5.8" dy="-2.9">pos</tspan></text>
<rect x="340.4" y="391.40000000000003" width="4.600000000000023" height="6.4" fill="#C4142F"/>
<text class="d" x="384.31" y="396.60" font-size="5.6" fill="#1a1a1a" transform="scale(0.905,1)">Laminin subunit α-1 GN=Lama1</text>
<rect x="340.4" y="401.53000000000003" width="4.600000000000023" height="6.4" fill="#C4142F"/>
<text class="d" x="384.31" y="406.73" font-size="5.6" fill="#1a1a1a" transform="scale(0.905,1)">C-type lectin domain family 4 member F GN=Clec4f</text>
<rect x="340.4" y="411.66" width="4.600000000000023" height="6.4" fill="#C4142F"/>
<text class="d" x="384.31" y="416.86" font-size="5.6" fill="#1a1a1a" transform="scale(0.905,1)">Receptor-type tyrosine-protein phosphatase F (fragment) GN=Ptprf</text>
<rect x="340.4" y="421.79" width="4.600000000000023" height="6.4" fill="#C4142F"/>
<text class="d" x="384.31" y="426.99" font-size="5.6" fill="#1a1a1a" transform="scale(0.905,1)">Integrin α-9 GN=Itga9</text>
<rect x="340.4" y="431.92" width="4.600000000000023" height="6.4" fill="#C4142F"/>
<text class="d" x="384.31" y="437.12" font-size="5.6" fill="#1a1a1a" transform="scale(0.905,1)">Ephrin-β2 (fragment) GN=Efnb2</text>
<rect x="340.4" y="442.05" width="4.600000000000023" height="6.4" fill="#C4142F"/>
<text class="d" x="384.31" y="447.25" font-size="5.6" fill="#1a1a1a" transform="scale(0.905,1)">Desmoglein-4 GN=Dsg4</text>
<rect x="340.4" y="452.18" width="4.600000000000023" height="6.4" fill="#C4142F"/>
<text class="d" x="384.31" y="457.38" font-size="5.6" fill="#1a1a1a" transform="scale(0.905,1)">Down syndrome cell adhesion molecule homolog GN=D<tspan font-size="4.2" dy="1.2">scam</tspan></text>
<rect x="340.4" y="462.31000000000006" width="4.600000000000023" height="6.4" fill="#C4142F"/>
<text class="d" x="384.31" y="467.51" font-size="5.6" fill="#1a1a1a" transform="scale(0.905,1)">Adhesion G protein-coupled receptor L2 (fragment) GN=Adgrl2</text>
<rect x="339.7" y="472.44000000000005" width="5.300000000000011" height="6.4" fill="#C4142F"/>
<text class="d" x="384.31" y="477.64" font-size="5.6" fill="#1a1a1a" transform="scale(0.905,1)">Receptor-type tyrosine-protein phosphatase S GN=Ptprs</text>
<rect x="338.8" y="482.57000000000005" width="6.199999999999989" height="6.4" fill="#C4142F"/>
<text class="d" x="384.31" y="487.77" font-size="5.6" fill="#1a1a1a" transform="scale(0.905,1)">1-phosphatidylinositol 4,5-bisphosphate phosphodiesterase β-1 GN=Plcb1</text>
<rect x="338.8" y="492.70000000000005" width="6.199999999999989" height="6.4" fill="#C4142F"/>
<text class="d" x="384.31" y="497.90" font-size="5.6" fill="#1a1a1a" transform="scale(0.905,1)">Inactive tyrosine-protein kinase 7 GN=Ptk7</text>
<rect x="337.4" y="502.83000000000004" width="7.600000000000023" height="6.4" fill="#C4142F"/>
<text class="d" x="384.31" y="508.03" font-size="5.6" fill="#1a1a1a" transform="scale(0.905,1)">Cadherin-7 GN=Cdh7</text>
<rect x="337.4" y="512.96" width="7.600000000000023" height="6.4" fill="#C4142F"/>
<text class="d" x="384.31" y="518.16" font-size="5.6" fill="#1a1a1a" transform="scale(0.905,1)">Myosin-binding protein C, fast-type GN=Mybpc2</text>
<rect x="333.5" y="523.0899999999999" width="11.5" height="6.4" fill="#C4142F"/>
<text class="d" x="384.31" y="528.29" font-size="5.6" fill="#1a1a1a" transform="scale(0.905,1)">Tenascin GN=Tnc</text>
<rect x="332.8" y="533.22" width="12.199999999999989" height="6.4" fill="#C4142F"/>
<text class="d" x="384.31" y="538.42" font-size="5.6" fill="#1a1a1a" transform="scale(0.905,1)">Galectin-9 GN=Lgals9</text>
<rect x="329.5" y="543.35" width="15.5" height="6.4" fill="#C4142F"/>
<text class="d" x="384.31" y="548.55" font-size="5.6" fill="#1a1a1a" transform="scale(0.905,1)">Insulin-like growth factor-binding protein 3 GN=Igfbp3</text>
<rect x="326" y="553.48" width="19" height="6.4" fill="#C4142F"/>
<text class="d" x="384.31" y="558.68" font-size="5.6" fill="#1a1a1a" transform="scale(0.905,1)">β-2-microglobulin GN=B2m</text>
<rect x="324.2" y="563.61" width="20.80000000000001" height="6.4" fill="#C4142F"/>
<text class="d" x="384.31" y="568.81" font-size="5.6" fill="#1a1a1a" transform="scale(0.905,1)">Cadherin-13 GN=Cdh13</text>
<rect x="321.5" y="573.74" width="23.5" height="6.4" fill="#C4142F"/>
<text class="d" x="384.31" y="578.94" font-size="5.6" fill="#1a1a1a" transform="scale(0.905,1)">Talin-2 GN=Tln2</text>
<rect x="320.2" y="583.87" width="24.80000000000001" height="6.4" fill="#C4142F"/>
<text class="d" x="384.31" y="589.07" font-size="5.6" fill="#1a1a1a" transform="scale(0.905,1)">Neural cell adhesion molecule 1 GN=Ncam1</text>
<rect x="307.5" y="594.0" width="37.5" height="6.4" fill="#C4142F"/>
<text class="d" x="384.31" y="599.20" font-size="5.6" fill="#1a1a1a" transform="scale(0.905,1)">Thrombospondin-4 GN=Thbs4</text>
<rect x="288.7" y="604.13" width="56.30000000000001" height="6.4" fill="#C4142F"/>
<text class="d" x="384.31" y="609.33" font-size="5.6" fill="#1a1a1a" transform="scale(0.905,1)">Fibronectin (fragment) GN=Fn1</text>
<rect x="261.2" y="614.26" width="83.80000000000001" height="6.4" fill="#C4142F"/>
<text class="d" x="384.31" y="619.46" font-size="5.6" fill="#1a1a1a" transform="scale(0.905,1)">Myosin-9 GN=Myh9</text>
<rect x="251.8" y="624.39" width="93.19999999999999" height="6.4" fill="#C4142F"/>
<text class="d" x="384.31" y="629.59" font-size="5.6" fill="#1a1a1a" transform="scale(0.905,1)">Vimentin GN=Vim</text>
<rect x="224.8" y="634.52" width="120.19999999999999" height="6.4" fill="#C4142F"/>
<text class="d" x="384.31" y="639.72" font-size="5.6" fill="#1a1a1a" transform="scale(0.905,1)">Fibronectin GN=Fn1</text>
<line x1="345.2" y1="389.2" x2="345.2" y2="647.3" stroke="#111" stroke-width="1.1"/>
<line x1="205.8" y1="647.2" x2="345.2" y2="647.2" stroke="#111" stroke-width="1.1"/>
<line x1="344.8" y1="647.2" x2="344.8" y2="651" stroke="#111" stroke-width="0.9"/>
<text class="s" x="344.8" y="658.3" font-size="7.3" text-anchor="middle" font-weight="normal" fill="#111" >0</text>
<line x1="329.05" y1="647.2" x2="329.05" y2="651" stroke="#111" stroke-width="0.9"/>
<text class="s" x="329.05" y="658.3" font-size="7.3" text-anchor="middle" font-weight="normal" fill="#111" >50</text>
<line x1="313.3" y1="647.2" x2="313.3" y2="651" stroke="#111" stroke-width="0.9"/>
<text class="s" x="313.3" y="658.3" font-size="7.3" text-anchor="middle" font-weight="normal" fill="#111" >100</text>
<line x1="297.55" y1="647.2" x2="297.55" y2="651" stroke="#111" stroke-width="0.9"/>
<text class="s" x="297.55" y="658.3" font-size="7.3" text-anchor="middle" font-weight="normal" fill="#111" >150</text>
<line x1="281.8" y1="647.2" x2="281.8" y2="651" stroke="#111" stroke-width="0.9"/>
<text class="s" x="281.8" y="658.3" font-size="7.3" text-anchor="middle" font-weight="normal" fill="#111" >200</text>
<line x1="266.05" y1="647.2" x2="266.05" y2="651" stroke="#111" stroke-width="0.9"/>
<text class="s" x="266.05" y="658.3" font-size="7.3" text-anchor="middle" font-weight="normal" fill="#111" >250</text>
<line x1="250.3" y1="647.2" x2="250.3" y2="651" stroke="#111" stroke-width="0.9"/>
<text class="s" x="250.3" y="658.3" font-size="7.3" text-anchor="middle" font-weight="normal" fill="#111" >300</text>
<line x1="234.55" y1="647.2" x2="234.55" y2="651" stroke="#111" stroke-width="0.9"/>
<text class="s" x="234.55" y="658.3" font-size="7.3" text-anchor="middle" font-weight="normal" fill="#111" >350</text>
<line x1="218.8" y1="647.2" x2="218.8" y2="651" stroke="#111" stroke-width="0.9"/>
<text class="s" x="218.8" y="658.3" font-size="7.3" text-anchor="middle" font-weight="normal" fill="#111" >400</text>
<text class="s" x="275.2" y="671.0" font-size="8.4" text-anchor="middle" font-weight="normal" fill="#111" textLength="35.7" lengthAdjust="spacingAndGlyphs" stroke="#111" stroke-width="0.12">-log (P-value)</text>
<text x="254.6" y="599.1" font-size="7.8" fill="#111" textLength="49.6" lengthAdjust="spacingAndGlyphs">Flk2<tspan font-size="5.8" dy="-2.9">neg</tspan><tspan dy="2.9"> CD34</tspan><tspan font-size="5.8" dy="-2.9">neg</tspan></text>
<rect x="0.5" y="0.5" width="519" height="677" fill="none" stroke="#000" stroke-width="1"/>
</svg>
</body></html>
